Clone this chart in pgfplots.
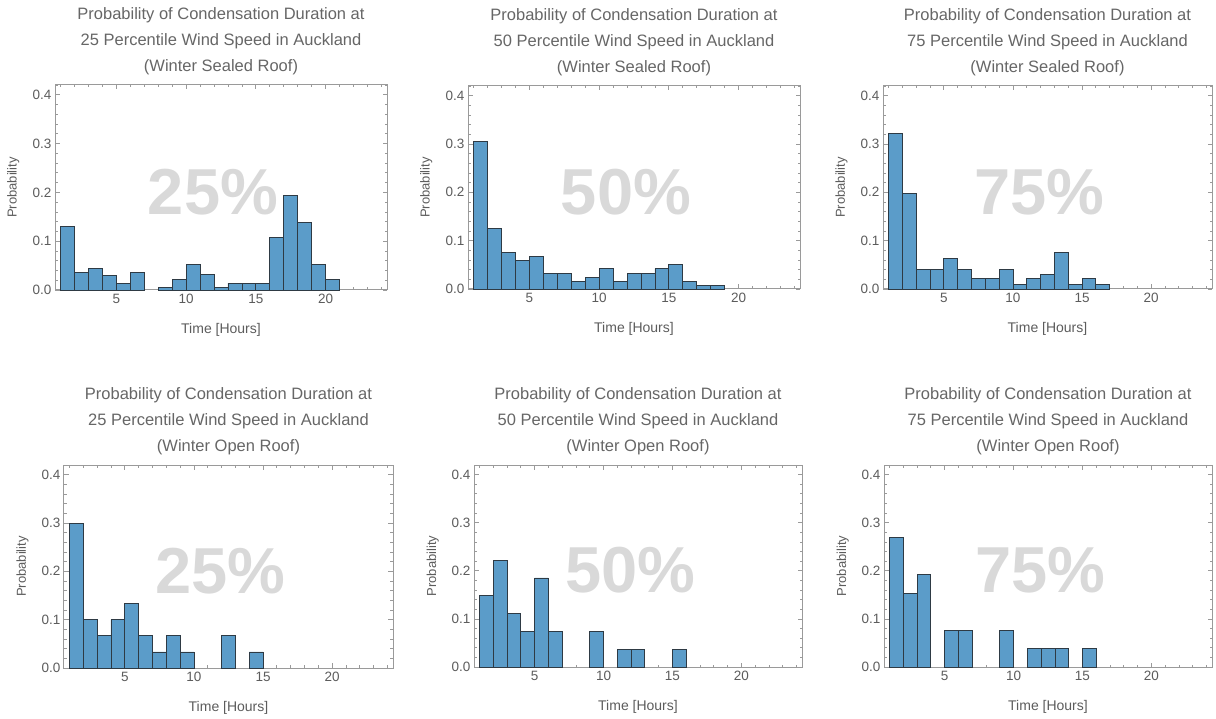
\documentclass[border=0pt]{standalone}
\usepackage{pgfplots}
\pgfplotsset{compat=1.18}
\usepackage{fontspec}
\setmainfont{Liberation Sans}
\definecolor{barfill}{HTML}{5B9CC9}
\definecolor{baredge}{HTML}{2E3A44}
\definecolor{framecol}{HTML}{9A9A9A}
\definecolor{labelcol}{HTML}{5C5C5C}
\definecolor{titlecol}{HTML}{666666}
\definecolor{wmcol}{HTML}{D9D9D9}
\pgfplotsset{
  hist/.style={
    scale only axis,
    anchor=south west,
    xmin=0.6, xmax=24.4, ymin=0, ymax=0.42,
    xtick={5,10,15,20},
    minor xtick={1,2,...,24},
    ytick={0,0.1,0.2,0.3,0.4},
    minor ytick={0.02,0.04,0.06,0.08,0.12,0.14,0.16,0.18,0.22,0.24,0.26,0.28,0.32,0.34,0.36,0.38,0.42},
    yticklabel style={/pgf/number format/fixed, /pgf/number format/fixed zerofill, /pgf/number format/precision=1},
    scaled y ticks=false,
    /pgf/number format/assume math mode=true,
    tick align=inside,
    major tick length=4.5pt,
    minor tick length=2.5pt,
    tick style={framecol, line width=0.8pt},
    axis line style={framecol, line width=1pt},
    ticklabel style={font=\fontsize{13.5}{16}\selectfont, text=labelcol},
    xticklabel style={yshift=-1pt},
    xlabel={Time [Hours]},
    ylabel={Probability},
    xlabel style={at={(axis description cs:0.5,0)}, anchor=center, yshift=-40pt, font=\fontsize{14}{16}\selectfont, text=labelcol},
    ylabel style={at={(axis description cs:-0.126,0.5)}, anchor=center, font=\fontsize{13}{16}\selectfont, text=labelcol},
    title style={at={(axis description cs:0.5,1)}, anchor=south, yshift=3.5pt, inner sep=0pt, align=center, font=\fontsize{16.5}{26}\selectfont, text=titlecol},
    clip=false,
  },
  bars/.style={ybar, bar width=1, bar shift=0pt, fill=barfill, draw=baredge, line width=0.8pt},
}
\newcommand{\wm}[1]{\node[font=\bfseries\fontsize{65}{68}\selectfont, text=wmcol] at (rel axis cs:0.476,0.478) {#1};}
\begin{document}
\begin{tikzpicture}
\useasboundingbox (0,0) rectangle (1216pt,718pt);
% ---------- top row ----------
\begin{axis}[hist, at={(55pt,428pt)}, width=332pt, height=205pt,
  title={Probability of Condensation Duration at\\25 Percentile Wind Speed in Auckland\\(Winter Sealed Roof)}]
\wm{25\%}
\addplot[bars] coordinates {(1.5,0.131) (2.5,0.036) (3.5,0.045) (4.5,0.030) (5.5,0.014) (6.5,0.036)
 (8.5,0.006) (9.5,0.021) (10.5,0.053) (11.5,0.031) (12.5,0.006) (13.5,0.014) (14.5,0.014) (15.5,0.014)
 (16.5,0.107) (17.5,0.193) (18.5,0.138) (19.5,0.053) (20.5,0.021)};
\end{axis}
\begin{axis}[hist, at={(468pt,429pt)}, width=332pt, height=203pt,
  title={Probability of Condensation Duration at\\50 Percentile Wind Speed in Auckland\\(Winter Sealed Roof)}]
\wm{50\%}
\addplot[bars] coordinates {(1.5,0.306) (2.5,0.125) (3.5,0.076) (4.5,0.059) (5.5,0.067) (6.5,0.033)
 (7.5,0.033) (8.5,0.016) (9.5,0.024) (10.5,0.042) (11.5,0.016) (12.5,0.033) (13.5,0.033) (14.5,0.042)
 (15.5,0.051) (16.5,0.016) (17.5,0.008) (18.5,0.008)};
\end{axis}
\begin{axis}[hist, at={(883pt,429pt)}, width=329pt, height=203pt,
  title={Probability of Condensation Duration at\\75 Percentile Wind Speed in Auckland\\(Winter Sealed Roof)}]
\wm{75\%}
\addplot[bars] coordinates {(1.5,0.322) (2.5,0.198) (3.5,0.041) (4.5,0.041) (5.5,0.064) (6.5,0.041)
 (7.5,0.021) (8.5,0.021) (9.5,0.041) (10.5,0.010) (11.5,0.021) (12.5,0.030) (13.5,0.076) (14.5,0.010)
 (15.5,0.021) (16.5,0.010)};
\end{axis}
% ---------- bottom row ----------
\begin{axis}[hist, at={(64pt,50pt)}, width=329pt, height=203pt,
  title={Probability of Condensation Duration at\\25 Percentile Wind Speed in Auckland\\(Winter Open Roof)}]
\wm{25\%}
\addplot[bars] coordinates {(1.5,0.3) (2.5,0.1) (3.5,0.0667) (4.5,0.1) (5.5,0.1333) (6.5,0.0667)
 (7.5,0.0333) (8.5,0.0667) (9.5,0.0333) (12.5,0.0667) (14.5,0.0333)};
\end{axis}
\begin{axis}[hist, at={(474pt,51pt)}, width=328pt, height=202pt,
  title={Probability of Condensation Duration at\\50 Percentile Wind Speed in Auckland\\(Winter Open Roof)}]
\wm{50\%}
\addplot[bars] coordinates {(1.5,0.1481) (2.5,0.2222) (3.5,0.1111) (4.5,0.0741) (5.5,0.1852) (6.5,0.0741)
 (9.5,0.0741) (11.5,0.037) (12.5,0.037) (15.5,0.037)};
\end{axis}
\begin{axis}[hist, at={(884pt,51pt)}, width=328pt, height=202pt,
  title={Probability of Condensation Duration at\\75 Percentile Wind Speed in Auckland\\(Winter Open Roof)}]
\wm{75\%}
\addplot[bars] coordinates {(1.5,0.2692) (2.5,0.1538) (3.5,0.1923) (5.5,0.0769) (6.5,0.0769)
 (9.5,0.0769) (11.5,0.0385) (12.5,0.0385) (13.5,0.0385) (15.5,0.0385)};
\end{axis}
\end{tikzpicture}
\end{document}
